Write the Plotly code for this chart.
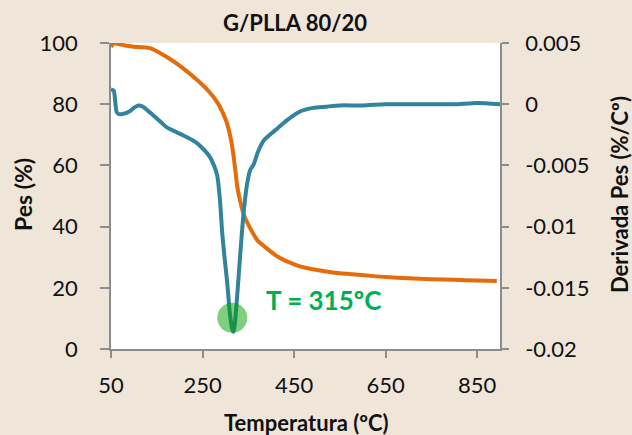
import plotly.graph_objects as go

# ---- data ----
temp_tga = [50, 55, 60, 80, 100, 135, 172, 207, 245, 265, 282, 295, 304, 312, 317, 322, 326,
            332, 340, 354, 370, 391, 410, 426, 445, 463, 500, 535, 570, 610, 650, 700, 750,
            800, 850, 893]
pes = [98.7, 99.8, 99.8, 99.2, 98.8, 98.3, 95.4, 91.8, 87.0, 84.0, 80.7, 77.0, 73.5, 68.5,
       64.0, 58.0, 53.0, 48.5, 44.0, 39.5, 35.5, 32.8, 30.6, 29.2, 28.0, 27.0, 25.8, 25.0,
       24.5, 24.0, 23.5, 23.1, 22.8, 22.6, 22.4, 22.2]

temp_dtg = [50, 56, 59, 62, 66, 75, 90, 100, 110, 120, 142, 160, 172, 194, 216, 235, 250,
            266, 275, 282, 288, 293, 298, 304, 310, 315, 318, 321, 325, 330, 335, 340, 347,
            354, 362, 370, 377, 385, 400, 413, 435, 463, 492, 520, 550, 600, 650, 700, 750,
            800, 850, 900]
derivada = [0.0012, 0.0011, 0.0003, -0.0006, -0.0008, -0.0008, -0.0006, -0.0003, -0.0001,
            -0.0002, -0.0009, -0.0015, -0.0019, -0.0023, -0.0027, -0.0031, -0.0036, -0.0043,
            -0.0050, -0.0058, -0.0078, -0.0105, -0.0125, -0.0146, -0.0172, -0.0184, -0.0186,
            -0.0178, -0.0160, -0.0135, -0.0110, -0.0088, -0.0066, -0.0054, -0.0049, -0.0040,
            -0.0034, -0.0029, -0.0024, -0.0020, -0.0013, -0.0006, -0.0003, -0.0002, -0.0001,
            -0.0001, 0.0, 0.0, 0.0, 0.0, 0.0001, 0.0]

peak_temp = [315]
peak_val = [-0.01745]

x_ticks = [50, 250, 450, 650, 850]
y_ticks = [0, 20, 40, 60, 80, 100]
y2_ticks = [0.005, 0, -0.005, -0.01, -0.015, -0.02]
y2_labels = ["0.005", "0", "-0.005", "-0.01", "-0.015", "-0.02"]

title_text = "G/PLLA 80/20"
x_title = "Temperatura (ºC)"
y_title = "Pes (%)"
y2_title = "Derivada Pes (%/Cº)"
peak_label = "T = 315ºC"

# ---- figure ----
FONT = "Lato"
AX = "#8c8c8c"

fig = go.Figure()
fig.add_trace(go.Scatter(x=temp_tga, y=pes, mode="lines",
                         line=dict(color="#E46C0A", width=4, shape="spline", smoothing=0.6),
                         yaxis="y", showlegend=False))
fig.add_trace(go.Scatter(x=temp_dtg, y=derivada, mode="lines",
                         line=dict(color="#31849B", width=4, shape="spline", smoothing=0.6),
                         yaxis="y2", showlegend=False))
fig.add_trace(go.Scatter(x=peak_temp, y=peak_val, mode="markers",
                         marker=dict(size=30, color="rgba(0,160,0,0.5)", line=dict(width=0)),
                         yaxis="y2", showlegend=False))

fig.update_layout(
    width=632, height=435,
    margin=dict(l=111, r=132, t=43, b=86),
    paper_bgcolor="#EFE5D9",
    plot_bgcolor="white",
    font=dict(family=FONT, size=22, color="#111111"),
    title=dict(text=title_text, x=299 / 632, xanchor="center", xref="paper",
               y=1 - 23 / 435, yref="container", yanchor="middle",
               font=dict(family=FONT, size=22, color="#111111", weight="bold")),
    xaxis=dict(range=[50, 900], tickvals=x_ticks, ticks="outside", ticklen=7,
               tickcolor=AX, tickwidth=1.5, showline=True, linecolor=AX, linewidth=1.5,
               showgrid=False, zeroline=False, ticklabelstandoff=9,
               tickfont=dict(family=FONT, size=22, color="#111111")),
    yaxis=dict(range=[0, 100], tickvals=y_ticks, ticks="outside", ticklen=9,
               tickcolor=AX, tickwidth=1.5, showline=True, linecolor=AX, linewidth=1.5,
               showgrid=False, zeroline=False, ticklabelstandoff=18,
               tickfont=dict(family=FONT, size=22, color="#111111")),
    yaxis2=dict(range=[-0.02, 0.005], tickvals=y2_ticks, ticktext=y2_labels,
                overlaying="y", side="right", ticks="outside", ticklen=7,
                tickcolor=AX, tickwidth=1.5, showline=True, linecolor=AX, linewidth=1.5,
                showgrid=False, zeroline=False, ticklabelstandoff=12,
                tickfont=dict(family=FONT, size=22, color="#111111")),
    annotations=[
        dict(text=peak_label, x=384, xref="x", y=16, yref="y", xanchor="left",
             yanchor="middle", showarrow=False,
             font=dict(family=FONT, size=26, color="#00B050", weight="bold")),
        dict(text=x_title, x=(306 - 111) / 389, xref="paper", y=-(422 - 349) / 306,
             yref="paper", xanchor="center", yanchor="middle", showarrow=False,
             font=dict(family=FONT, size=22, color="#111111", weight="bold")),
        dict(text=y_title, x=(23 - 111) / 389, xref="paper", y=(349 - 195) / 306,
             yref="paper", xanchor="center", yanchor="middle", showarrow=False,
             textangle=-90,
             font=dict(family=FONT, size=23, color="#111111", weight="bold")),
        dict(text=y2_title, x=(619 - 111) / 389, xref="paper", y=(349 - 195) / 306,
             yref="paper", xanchor="center", yanchor="middle", showarrow=False,
             textangle=-90,
             font=dict(family=FONT, size=22, color="#111111", weight="bold")),
    ],
)

fig.write_html("out.html", config={"displayModeBar": False},
               post_script="document.body.style.margin='0';document.body.style.padding='0';")
